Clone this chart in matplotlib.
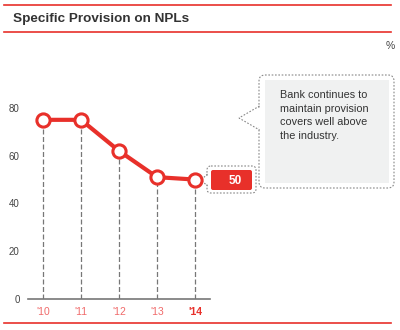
import matplotlib
matplotlib.use('Agg')
import matplotlib.pyplot as plt
from matplotlib.patches import FancyBboxPatch, Polygon, Rectangle

plt.rcParams['font.family'] = ['Liberation Sans', 'DejaVu Sans']

years = ["'10", "'11", "'12", "'13", "'14"]
values = [75, 75, 62, 51, 50]
yticks = [0, 20, 40, 60, 80]
note = 'Bank continues to\nmaintain provision\ncovers well above\nthe industry.'

red = '#e8302a'
grey = '#777777'
dash = (0, (1.5, 1.5))

fig = plt.figure(figsize=(4, 3.3), dpi=100)

# overlay in pixel coordinates for header, rules and callouts
bg = fig.add_axes([0, 0, 1, 1])
bg.set_xlim(0, 400)
bg.set_ylim(330, 0)
bg.axis('off')
bg.plot([4, 391], [5, 5], color=red, lw=1.2)
bg.plot([4, 391], [32, 32], color=red, lw=1.2)
bg.plot([4, 391], [323, 323], color=red, lw=1.2)
bg.text(13, 19, 'Specific Provision on NPLs', fontsize=9.7, fontweight='bold',
        color='#333333', va='center')
bg.text(395, 46, '%', fontsize=7.5, color='#444444', ha='right', va='center')

# note callout
bg.add_patch(FancyBboxPatch((259, 75), 135, 113, boxstyle='round,pad=0,rounding_size=6',
                            fc='white', ec='#888888', lw=0.8, ls=dash))
bg.add_patch(Polygon([[259.5, 106], [239, 118], [259.5, 130]], closed=False,
                     fill=False, ec='#888888', lw=0.8, ls=dash))
bg.add_patch(Polygon([[260.5, 107], [241, 118], [260.5, 129]], fc='white', ec='none'))
bg.add_patch(Rectangle((265, 80), 124, 103, fc='#f0f1f1', ec='none'))
bg.text(280, 90, note, fontsize=7.8, color='#333333', va='top', linespacing=1.45)

# value callout for last point
bg.add_patch(FancyBboxPatch((207, 166), 49, 27, boxstyle='round,pad=0,rounding_size=4',
                            fc='white', ec='#888888', lw=0.8, ls=dash))
bg.add_patch(Polygon([[207.5, 174], [201, 180], [207.5, 186]], closed=False,
                     fill=False, ec='#888888', lw=0.8, ls=dash))
bg.add_patch(Polygon([[208.5, 175], [203, 180], [208.5, 185]], fc='white', ec='none'))
bg.add_patch(FancyBboxPatch((211, 170), 41, 20, boxstyle='round,pad=0,rounding_size=2',
                            fc=red, ec='none'))
bg.text(235, 180.5, str(values[-1]), fontsize=8.5, fontweight='bold', color='white',
        ha='center', va='center')

ax = fig.add_axes([28 / 400, 31 / 330, 182 / 400, 199 / 330])
ax.patch.set_alpha(0)
x = list(range(len(years)))
ax.set_xlim(-0.395, 4.395)
ax.set_ylim(0, 83.3)
for xi, v in zip(x, values):
    ax.plot([xi, xi], [0, v], color=grey, lw=0.9, ls=(0, (4, 2)), zorder=1)
ax.plot(x, values, color=red, lw=3, marker='o', ms=9.5, mfc='white',
        mec=red, mew=2.2, zorder=3, clip_on=False)

for s in ['top', 'right', 'left']:
    ax.spines[s].set_visible(False)
ax.spines['bottom'].set_color(grey)
ax.spines['bottom'].set_linewidth(1.2)
ax.set_yticks(yticks)
ax.set_yticklabels([str(t) for t in yticks], fontsize=7, color='#444444')
ax.tick_params(axis='y', length=0, pad=6)
ax.set_xticks(x)
ax.set_xticklabels(years, fontsize=7.5)
ax.tick_params(axis='x', length=0, pad=6)
for i, lbl in enumerate(ax.get_xticklabels()):
    if i == len(years) - 1:
        lbl.set_color(red)
        lbl.set_fontweight('bold')
    else:
        lbl.set_color('#f06a6a')

fig.savefig('out.png', dpi=100)
